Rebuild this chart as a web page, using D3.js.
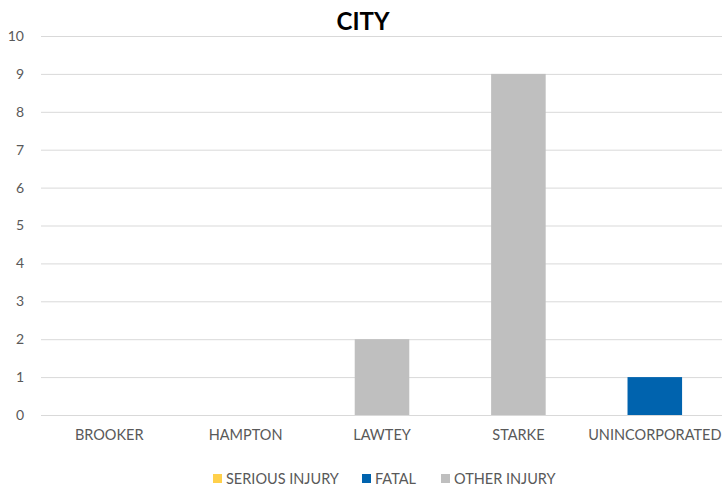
<!DOCTYPE html>
<html>
<head>
<meta charset="utf-8">
<script src="https://cdn.jsdelivr.net/npm/d3@7"></script>
<style>
  body { margin: 0; background: #fff; }
  text { font-family: Lato, "Open Sans", sans-serif; fill: #595959; }
</style>
</head>
<body>
<div id="chart-area"></div>
<script>
const W = 722, H = 489
const MARGIN = { LEFT: 41, RIGHT: -1, TOP: 36, BOTTOM: 74 }
const WIDTH = W - MARGIN.LEFT - MARGIN.RIGHT
const HEIGHT = H - MARGIN.TOP - MARGIN.BOTTOM

const cities = ["BROOKER", "HAMPTON", "LAWTEY", "STARKE", "UNINCORPORATED"]
const seriesNames = ["SERIOUS INJURY", "FATAL", "OTHER INJURY"]
const seriousInjury = [0, 0, 0, 0, 0]
const fatal = [0, 0, 0, 0, 1]
const otherInjury = [0, 0, 2, 9, 0]
const yTicks = [0, 1, 2, 3, 4, 5, 6, 7, 8, 9, 10]
const colors = ["#FFD04B", "#0063AE", "#BFBFBF"]

const data = cities.map((c, i) => ({
  city: c,
  "SERIOUS INJURY": seriousInjury[i],
  "FATAL": fatal[i],
  "OTHER INJURY": otherInjury[i]
}))

const svg = d3.select("#chart-area").append("svg")
  .attr("width", W)
  .attr("height", H)

const g = svg.append("g")
  .attr("transform", `translate(${MARGIN.LEFT}, ${MARGIN.TOP})`)

const x = d3.scaleBand()
  .domain(cities)
  .range([0, WIDTH])
  .paddingInner(0.6)
  .paddingOuter(0.3)

const y = d3.scaleLinear()
  .domain([0, 10])
  .range([HEIGHT, 0])

// gridlines
g.append("g")
  .selectAll("line")
  .data(yTicks)
  .enter().append("line")
  .attr("x1", 0)
  .attr("x2", WIDTH)
  .attr("y1", d => y(d) + 0.5)
  .attr("y2", d => y(d) + 0.5)
  .attr("stroke", "#d9d9d9")
  .attr("stroke-width", 1)

// y axis labels
const yAxisCall = d3.axisLeft(y).tickValues(yTicks).tickSize(0).tickPadding(17)
const yAxisGroup = g.append("g").call(yAxisCall)
yAxisGroup.select(".domain").remove()
yAxisGroup.selectAll("text")
  .attr("font-size", "14px")
  .style("font-family", "Lato, sans-serif")
  .attr("fill", "#595959")

// x axis labels
const xAxisCall = d3.axisBottom(x).tickSize(0).tickPadding(15)
const xAxisGroup = g.append("g")
  .attr("transform", `translate(0, ${HEIGHT})`)
  .call(xAxisCall)
xAxisGroup.select(".domain").remove()
xAxisGroup.selectAll("text")
  .attr("font-size", "14.5px")
  .style("font-family", "Lato, sans-serif")
  .attr("fill", "#595959")

// stacked bars
const stack = d3.stack().keys(seriesNames)
const layers = stack(data)

g.append("g")
  .selectAll("g")
  .data(layers)
  .enter().append("g")
  .attr("fill", (d, i) => colors[i])
  .selectAll("rect")
  .data(d => d.filter(p => p[1] - p[0] > 0))
  .enter().append("rect")
  .attr("x", d => x(d.data.city))
  .attr("width", x.bandwidth())
  .attr("y", d => y(d[1]))
  .attr("height", d => y(d[0]) - y(d[1]))

// title
svg.append("text")
  .attr("x", 363)
  .attr("y", 30)
  .attr("text-anchor", "middle")
  .attr("font-size", "24px")
  .attr("font-weight", "bold")
  .style("fill", "#000")
  .text("CITY")

// legend
const legendX = [213, 362, 441]
const legend = svg.append("g")
  .selectAll("g")
  .data(seriesNames)
  .enter().append("g")
  .attr("transform", (d, i) => `translate(${legendX[i]}, 474)`)

legend.append("rect")
  .attr("width", 9)
  .attr("height", 9)
  .attr("fill", (d, i) => colors[i])

legend.append("text")
  .attr("x", 13)
  .attr("y", 9.5)
  .attr("font-size", "14.5px")
  .text(d => d)
</script>
</body>
</html>
